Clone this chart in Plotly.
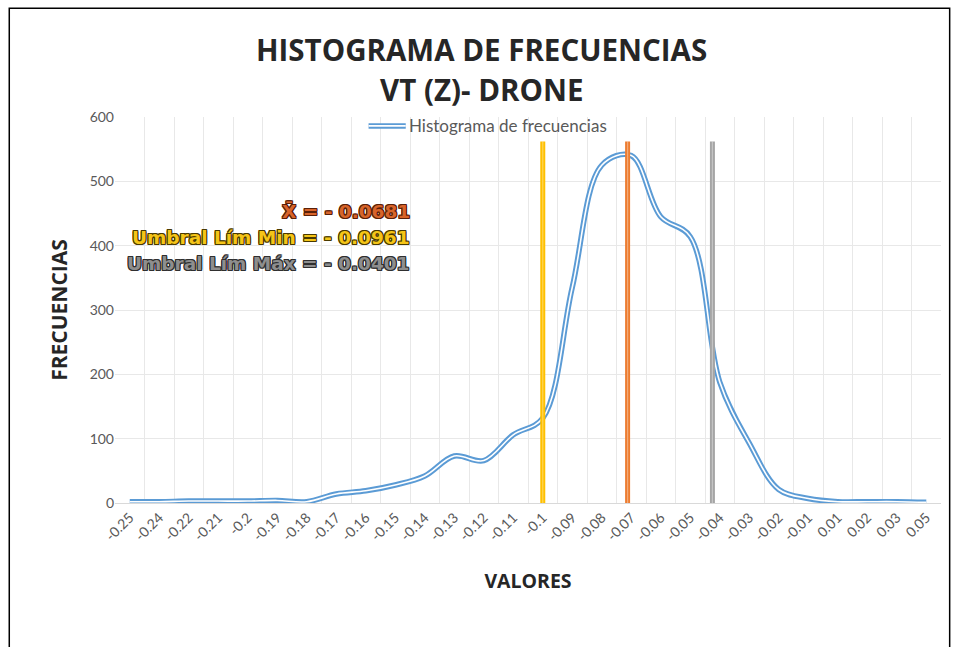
import plotly.graph_objects as go

# Bin labels (rounded bin marks as shown on the category axis)
bin_labels = ["-0.25", "-0.24", "-0.22", "-0.21", "-0.2", "-0.19", "-0.18", "-0.17",
              "-0.16", "-0.15", "-0.14", "-0.13", "-0.12", "-0.11", "-0.1", "-0.09",
              "-0.08", "-0.07", "-0.06", "-0.05", "-0.04", "-0.03", "-0.02", "-0.01",
              "0.01", "0.02", "0.03", "0.05"]
# Frequency per bin
frequencies = [2, 2, 3, 3, 3, 4, 2, 14, 19, 28, 42, 73, 66, 106,
               132, 335, 525, 540, 445, 414, 188, 93, 21, 7, 2, 2, 2, 1]

# Reference values: mean and threshold limits
stat_names = ["Umbral Lím Min", "Media", "Umbral Lím Máx"]
stat_values = [-0.0961, -0.0681, -0.0401]
stat_colors = ["#FFC000", "#ED7D31", "#A5A5A5"]
stat_height = [562, 562, 562]

# y-axis ticks
y_ticks = [0, 100, 200, 300, 400, 500, 600]

idx = list(range(len(bin_labels)))
n = len(bin_labels)

fig = go.Figure()

# Double (outlined) smoothed line: wide blue under thin white
fig.add_trace(go.Scatter(
    x=idx, y=frequencies, mode="lines",
    line=dict(color="#5B9BD5", width=5.5, shape="spline", smoothing=1.0),
    showlegend=False, hoverinfo="skip"))
fig.add_trace(go.Scatter(
    x=idx, y=frequencies, mode="lines",
    line=dict(color="#FFFFFF", width=1.6, shape="spline", smoothing=1.0),
    showlegend=False, name="Histograma de frecuencias"))

# Vertical reference lines on a hidden numeric value axis
for name, v, c, h in zip(stat_names, stat_values, stat_colors, stat_height):
    fig.add_trace(go.Scatter(
        x=[v, v], y=[0, h], mode="lines", xaxis="x2",
        line=dict(color=c, width=5), showlegend=False, name=name))
    fig.add_trace(go.Scatter(
        x=[v, v], y=[0, h], mode="lines", xaxis="x2",
        line=dict(color="rgba(255,255,255,0.35)", width=1.2),
        showlegend=False, hoverinfo="skip"))

grid_color = "#E8E8E8"
title_font = dict(family="Open Sans, sans-serif", size=29.5, color="#262626")
fig.update_layout(
    width=958, height=647,
    margin=dict(l=115, r=17, t=117, b=144),
    paper_bgcolor="white", plot_bgcolor="white",
    font=dict(family="Lato, Carlito, Calibri, sans-serif", color="#595959"),
    xaxis=dict(
        range=[-0.5, n - 0.5], tickmode="array", tickvals=idx, ticktext=bin_labels,
        tickangle=-45, ticks="", showgrid=False, zeroline=False,
        showline=True, linecolor="#D9D9D9", linewidth=1,
        tickfont=dict(size=14, color="#595959"),
        minor=dict(tickmode="array", tickvals=[i + 0.5 for i in range(-1, n)],
                   showgrid=True, gridcolor=grid_color, gridwidth=1, ticks=""),
        title=dict(text="<b>VALORES</b>", standoff=31,
                   font=dict(family="Open Sans, sans-serif", size=19.5, color="#262626"))),
    xaxis2=dict(overlaying="x", range=[-0.2373, 0.03535], visible=False),
    yaxis=dict(
        range=[0, 600], tickmode="array", tickvals=y_ticks,
        showgrid=True, gridcolor=grid_color, zeroline=False,
        tickfont=dict(size=14, color="#595959"), ticks="",
        title=dict(text="<b>FRECUENCIAS</b>", standoff=16,
                   font=dict(family="Open Sans, sans-serif", size=21, color="#262626"))),
    showlegend=False,
)

# Two-line chart title
fig.add_annotation(xref="paper", yref="paper", x=0.444, y=1.1736, xanchor="center", yanchor="middle",
                   text="<b>HISTOGRAMA DE FRECUENCIAS</b>", showarrow=False, font=title_font)
fig.add_annotation(xref="paper", yref="paper", x=0.444, y=1.070, xanchor="center", yanchor="middle",
                   text="<b>VT (Z)- DRONE</b>", showarrow=False, font=title_font)

# Legend drawn manually so the key shows the outlined double line
fig.add_shape(type="line", xref="paper", yref="paper", x0=0.307, x1=0.352, y0=0.977, y1=0.977,
              line=dict(color="#5B9BD5", width=5.5))
fig.add_shape(type="line", xref="paper", yref="paper", x0=0.307, x1=0.352, y0=0.977, y1=0.977,
              line=dict(color="#FFFFFF", width=1.6))
fig.add_annotation(xref="paper", yref="paper", x=0.354, y=0.977, xanchor="left", yanchor="middle",
                   text="Histograma de frecuencias", showarrow=False,
                   font=dict(family="Lato, sans-serif", size=17, color="#595959"))

# Statistic labels with outlined text
label_specs = [
    ("X\u0304 = - 0.0681", "#D8642A", "#5A2008", 0.756),
    ("Umbral Lím Min = - 0.0961", "#F5C518", "#4A3A00", 0.688),
    ("Umbral Lím Máx = - 0.0401", "#8E8E8E", "#2F2F2F", 0.620),
]
for txt, fill, edge, yp in label_specs:
    shadow = ", ".join(f"{dx}px {dy}px 0 {edge}" for dx, dy in
                       [(1, 0), (-1, 0), (0, 1), (0, -1), (1, 1), (-1, -1), (1, -1), (-1, 1)])
    fig.add_annotation(xref="paper", yref="paper", x=0.360, y=yp, xanchor="right", yanchor="middle",
                       text=f"<b>{txt}</b>", showarrow=False,
                       font=dict(family="DejaVu Sans, sans-serif", size=18.5, color=fill, shadow=shadow))

# Chart frame
fig.add_shape(type="rect", xref="paper", yref="paper", x0=-0.128, x1=1.0105, y0=-0.40, y1=1.282,
              line=dict(color="#000000", width=1.5), fillcolor="rgba(0,0,0,0)", layer="below")

fig.write_html("out.html")
